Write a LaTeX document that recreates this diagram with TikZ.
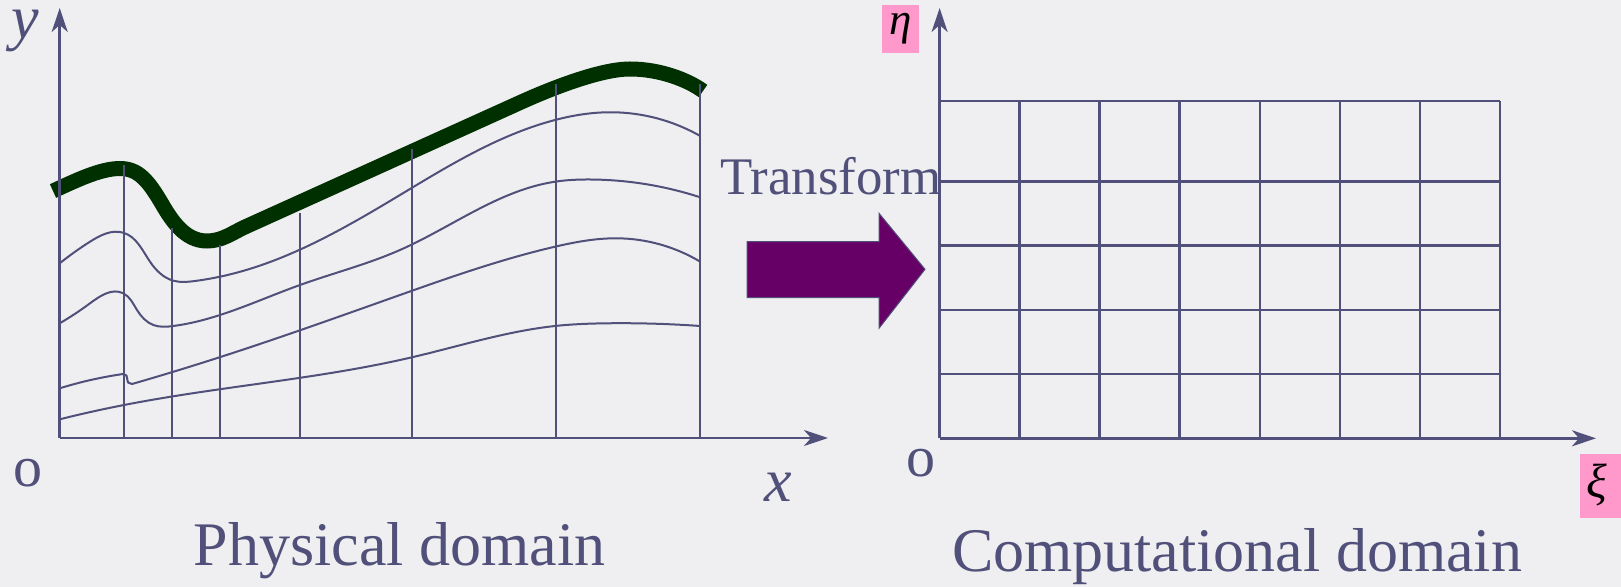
\documentclass[tikz,border=0pt]{standalone}
\usepackage{fontspec}
\setmainfont{Liberation Serif}
\usetikzlibrary{arrows.meta,hobby}
\definecolor{ink}{RGB}{80,80,122}
\definecolor{bgc}{RGB}{239,239,241}
\definecolor{bound}{RGB}{0,48,0}
\definecolor{pinkbox}{RGB}{255,153,204}
\definecolor{purp}{RGB}{102,0,102}
\begin{document}
\begin{tikzpicture}[x=0.5pt,y=-0.5pt,
  axisline/.style={draw=ink,line width=1.25pt,-{Stealth[length=12pt,width=8pt,inset=3.5pt]}},
  meshline/.style={draw=ink,line width=1pt},
  gridline/.style={draw=ink,line width=1.3pt},
  boundary/.style={draw=bound,line width=7.5pt},
  lbl/.style={text=ink,inner sep=0pt,anchor=base},
  pinklbl/.style={fill=pinkbox,inner sep=0pt,text=black}]
\fill[bgc] (0,0) rectangle (1621,587);
\useasboundingbox (0,0) rectangle (1621,587);
% ---------- physical domain ----------
\coordinate (O1) at (59.7,438);
\coordinate (Y1) at (59.7,8);
\coordinate (X1) at (828,438);
% curved mesh lines
\draw[meshline,use Hobby shortcut] (59.7,263.3) .. (90,241.7) .. (123.3,232.7) .. (150,261.7) .. (173.3,280.7) .. (195,281) .. (220,276.7) .. (400,195) .. (555,120) .. (606.7,112.3) .. (700.2,136);
\draw[meshline,use Hobby shortcut] (59.7,323.3) .. (90,303.3) .. (123.3,293.3) .. (137,310) .. (153.3,325) .. (173.3,326) .. (300,285) .. (400,250) .. (555,181.7) .. (590,179.5) .. (700.2,197.3);
\draw[meshline,line cap=round,use Hobby shortcut] (59.7,388.3) .. (100,378) .. (123,374);
\draw[meshline,line cap=round,line join=round] (123,374) -- (126.5,375.5) -- (128,382.5) -- (132,384);
\draw[meshline,line cap=round,use Hobby shortcut] (132,384) .. (219.5,357.3) .. (400,295) .. (555,246.7) .. (616.7,238.3) .. (700.2,261.7);
\draw[meshline,use Hobby shortcut] (59.7,419.3) .. (124,405) .. (219.5,389.3) .. (411.9,357.3) .. (555,326) .. (606.7,323.3) .. (700.2,326);
% boundary
\draw[boundary] (53,191) .. controls (75,181) and (100,168.5) .. (120,168.5)
  .. controls (138,168.5) and (148,180) .. (162,204)
  .. controls (172,221) and (185,241) .. (207,241)
  .. controls (222,241) and (232,233) .. (245,227)
  -- (520,102.6)
  .. controls (550,89) and (600,69) .. (630,69)
  .. controls (660,69) and (688,80) .. (703,91);
% vertical mesh lines
\foreach \xx/\top in {124/165,172.2/228,219.5/245,299.8/213,411.9/149,556/84.5,700.2/84.5}
  \draw[meshline] (\xx,438) -- (\xx,\top);
% axes
\draw[axisline] (O1) -- (Y1);
\draw[axisline] (O1) -- (X1);
\node[lbl,font=\fontsize{31}{31}\selectfont\itshape] (ylab) at (25,39) {y};
\node[lbl,font=\fontsize{31}{31}\selectfont\itshape] (xlab) at (778,501.5) {x};
\node[lbl,font=\fontsize{29}{29}\selectfont] (o1) at (28,486) {o};
\node[lbl,font=\fontsize{31}{31}\selectfont] (phys) at (399.6,565) {Physical domain};
% ---------- transform arrow ----------
\node[lbl,font=\fontsize{26.4}{26.4}\selectfont] (tr) at (831,195) {Transform};
\draw[ink,line width=0.5pt,fill=purp] (747,241.7) -- (879,241.7) -- (879,213.3) -- (925,269.3) -- (879,328.3) -- (879,297.7) -- (747,297.7) -- cycle;
% ---------- computational domain ----------
\foreach \k in {0,...,7}
  \draw[gridline] ({939.6+80.06*\k},101) -- ({939.6+80.06*\k},438.3);
\foreach \yy in {101,181.7,245.7,310,374}
  \draw[gridline] (939.6,\yy) -- (1500,\yy);
\coordinate (O2) at (939.6,438.3);
\coordinate (Y2) at (939.6,8);
\coordinate (X2) at (1596,438.3);
\draw[axisline] (O2) -- (Y2);
\draw[axisline] (O2) -- (X2);
\node[lbl,font=\fontsize{29}{29}\selectfont] (o2) at (920.5,476.5) {o};
\node[pinklbl,minimum width=18.5pt,minimum height=24pt,font=\fontsize{22.5}{22.5}\selectfont\itshape] (eta) at (900.8,29.2) {η};
\fill[pinkbox] (1580,454) rectangle (1621,518.3);
\node[inner sep=0pt,text=black,font=\fontsize{24}{24}\selectfont\itshape] (xi) at (1597,485) {ξ};
\node[lbl,font=\fontsize{31}{31}\selectfont] (comp) at (1237,571.7) {Computational domain};
\end{tikzpicture}
\end{document}
